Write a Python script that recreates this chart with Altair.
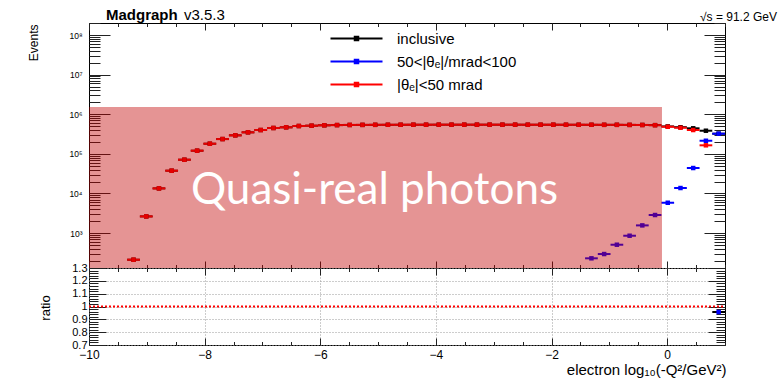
import altair as alt
import pandas as pd

# ---------------- data ----------------
S_INC = "inclusive"
S_WIDE = "50<|θₑ|/mrad<100"
S_NARROW = "|θₑ|<50 mrad"

bin_centers = [-9.23, -9.01, -8.79, -8.57, -8.35, -8.13, -7.91, -7.69, -7.47, -7.25,
               -7.03, -6.81, -6.59, -6.37, -6.15, -5.93, -5.71, -5.49, -5.27, -5.05,
               -4.83, -4.61, -4.39, -4.17, -3.95, -3.73, -3.51, -3.29, -3.07, -2.85,
               -2.63, -2.41, -2.19, -1.97, -1.75, -1.53, -1.31, -1.09, -0.87, -0.65,
               -0.43, -0.21, 0.01, 0.23, 0.45, 0.67, 0.89]
bin_half_width = 0.11

inclusive_events = [212, 2630, 13400, 37500, 71000, 120000, 180000, 236000, 293000, 349000,
                    399000, 449000, 467000, 504000, 513000, 525000, 532000, 536000, 538000, 540000,
                    541000, 542000, 543000, 543000, 544000, 544000, 544000, 544000, 544000, 544000,
                    544000, 543000, 543000, 543000, 542000, 542000, 541000, 540000, 540000, 538000,
                    536000, 531000, 492000, 470000, 441000, 383000, 322000]

narrow_events = [212, 2630, 13400, 37500, 71000, 120000, 180000, 236000, 293000, 349000,
                 399000, 449000, 467000, 504000, 513000, 525000, 532000, 536000, 538000, 540000,
                 541000, 542000, 543000, 543000, 544000, 544000, 544000, 544000, 544000, 544000,
                 544000, 543000, 543000, 543000, 542000, 542000, 541000, 540000, 539000, 537000,
                 534000, 528000, 483000, 456000, 399000, 164000]

wide_centers = [-1.31, -1.09, -0.87, -0.65, -0.43, -0.21, 0.01, 0.23, 0.45, 0.67, 0.89]
wide_events = [230, 295, 507, 855, 1560, 2850, 5820, 13700, 43800, 214000, 322000]

ratio_centers = [0.89]
ratio_values = [0.957]

reference_line_x = [-10, 1]
reference_line_y = [1.0]

overlay_x = [-10, -0.09]
overlay_y = [131, 1.52e6]

title_bold = "Madgraph"
title_version = "v3.5.3"
energy_label = "√s = 91.2 GeV"
overlay_label = "Quasi-real photons"
x_title = "electron log₁₀(-Q²/GeV²)"

x_major = [-10, -8, -6, -4, -2, 0]
y_ratio_major = [0.7, 0.8, 0.9, 1.0, 1.1, 1.2, 1.3]
y_top_major = [1e3, 1e4, 1e5, 1e6, 1e7, 1e8]

# ---------------- layout constants ----------------
W, H1, H2 = 636, 245, 77
FONT = "Liberation Sans"

rows = []
for name, xs, vs in [(S_INC, bin_centers, inclusive_events),
                     (S_WIDE, wide_centers, wide_events),
                     (S_NARROW, bin_centers, narrow_events)]:
    for x, v in zip(xs, vs):
        rows.append({"series": name, "x": x, "lo": x - bin_half_width,
                     "hi": x + bin_half_width, "v": v})
df = pd.DataFrame(rows)

ratio_df = pd.DataFrame({"x": ratio_centers,
                         "lo": [c - bin_half_width for c in ratio_centers],
                         "hi": [c + bin_half_width for c in ratio_centers],
                         "r": ratio_values})
ref_df = pd.DataFrame({"lo": [reference_line_x[0]], "hi": [reference_line_x[1]],
                       "r": reference_line_y})
overlay_df = pd.DataFrame({"x0": [overlay_x[0]], "x1": [overlay_x[1]],
                           "y0": [overlay_y[0]], "y1": [overlay_y[1]]})

xscale = alt.Scale(domain=[-10, 1], nice=False, zero=False)
yscale = alt.Scale(type="log", domain=[131, 2.01e8], nice=False)
rscale = alt.Scale(domain=[0.7, 1.3], nice=False, zero=False)
color_scale = alt.Scale(domain=[S_INC, S_WIDE, S_NARROW],
                        range=["#000000", "#0000ff", "#ff0000"])

x_tick_values = [-10 + 0.5 * i for i in range(23)]
y_tick_values = [m * 10 ** k for k in range(2, 9) for m in range(1, 10)
                 if 131 <= m * 10 ** k <= 2.01e8]
r_tick_values = [round(0.7 + 0.02 * i, 2) for i in range(31)]

X_TEST = "abs(datum.value % 2) < 0.001"
Y_TEST = "abs(log(datum.value)/LN10 - round(log(datum.value)/LN10)) < 0.01"
R_TEST = "round(datum.value*100) % 10 == 0"


def tick_axis(orient, offset, values, test, major, minor):
    return alt.Axis(orient=orient, offset=offset, values=values, labels=False,
                    domain=False, grid=False, title=None, tickColor="#222222",
                    tickWidth=1,
                    tickSize={"condition": {"test": test, "value": major}, "value": minor})


sup = {1e3: "10³", 1e4: "10⁴", 1e5: "10⁵", 1e6: "10⁶", 1e7: "10⁷", 1e8: "10⁸"}
label_expr = " : ".join(
    [f"datum.value > {k * 0.5:g} ? '{sup[k]}'" for k in sorted(sup, reverse=True)]) + " : ''"

# ---------------- top panel ----------------
legend_def = alt.Legend(orient="none", legendX=260, legendY=8, title=None,
                        direction="vertical",
                        symbolType="M-5.2,0H5.2M-0.35,-0.35H0.35V0.35H-0.35Z",
                        symbolSize=100, symbolStrokeWidth=2,
                        labelFont=FONT, labelFontSize=15, labelColor="black",
                        labelOffset=33, rowPadding=7, padding=0)

base = alt.Chart(df)
rules = base.mark_rule(strokeWidth=2).encode(
    x=alt.X("lo:Q", scale=xscale,
            axis=tick_axis("top", -H1, x_tick_values, X_TEST, 7, 3.5)),
    x2="hi:Q",
    y=alt.Y("v:Q", scale=yscale,
            axis=alt.Axis(orient="left", values=y_top_major, ticks=False, domain=False,
                          grid=False, labelExpr=label_expr, labelFont=FONT,
                          labelFontSize=8.5, labelPadding=7, labelColor="black",
                          title="Events", titleFont=FONT, titleFontSize=12,
                          titleFontWeight="normal", titleColor="black",
                          titleAngle=270, titleX=-56, titleY=1, titleAlign="right",
                          titleBaseline="middle")),
    color=alt.Color("series:N", scale=color_scale, legend=legend_def),
)
points = base.mark_square(size=20, opacity=1).encode(
    x=alt.X("x:Q", scale=xscale,
            axis=tick_axis("bottom", -H1, x_tick_values, X_TEST, 7, 3.5)),
    y=alt.Y("v:Q", scale=yscale,
            axis=tick_axis("right", -W, y_tick_values, Y_TEST, 21, 11)),
    color=alt.Color("series:N", scale=color_scale, legend=None),
)
overlay = alt.Chart(overlay_df).mark_rect(color="#c00000", opacity=0.42).encode(
    x=alt.X("x0:Q", scale=xscale, axis=None),
    x2="x1:Q",
    y=alt.Y("y0:Q", scale=yscale,
            axis=tick_axis("left", -W, y_tick_values, Y_TEST, 21, 11)),
    y2="y1:Q",
)


def text_layer(txt, x, y, **kw):
    return alt.Chart(pd.DataFrame({"t": [txt]})).mark_text(
        align="left", baseline="alphabetic", **kw).encode(
        x=alt.value(x), y=alt.value(y), text="t:N")


t_bold = text_layer(title_bold, 17, -3.5, font=FONT, fontSize=15,
                    fontWeight="bold", color="black")
t_ver = text_layer(title_version, 95, -3.5, font=FONT, fontSize=15, color="black")
t_energy = text_layer(energy_label, 611, -2.5, font=FONT, fontSize=12, color="black")
t_quasi = alt.Chart(pd.DataFrame({"t": [overlay_label]})).mark_text(
    align="center", baseline="alphabetic", font="Lato", fontSize=44,
    color="white").encode(x=alt.value(285.5), y=alt.value(181), text="t:N")

top = alt.layer(rules, points, overlay, t_bold, t_ver, t_energy, t_quasi).resolve_axis(
    x="independent", y="independent").properties(width=W, height=H1)

# ---------------- ratio panel ----------------
ref_line = alt.Chart(ref_df).mark_rule(color="#ff0000", strokeWidth=2,
                                       strokeDash=[2, 2]).encode(
    x=alt.X("lo:Q", scale=xscale,
            axis=alt.Axis(orient="bottom", values=x_major, ticks=False, domain=False,
                          grid=True, gridDash=[1, 2], gridColor="#9a9a9a",
                          labelFont=FONT, labelFontSize=12, labelPadding=4,
                          labelColor="black", labelFlush=False,
                          title=x_title, titleFont=FONT, titleFontSize=15,
                          titleFontWeight="normal", titleColor="black",
                          titleX=637, titleY=29, titleAlign="right",
                          titleBaseline="alphabetic")),
    x2="hi:Q",
    y=alt.Y("r:Q", scale=rscale,
            axis=alt.Axis(orient="left", values=y_ratio_major, ticks=False, domain=False,
                          grid=True, gridDash=[1, 2], gridColor="#9a9a9a",
                          format="~g", labelFont=FONT, labelFontSize=11,
                          labelPadding=2, labelColor="black", labelFlush=False,
                          title="ratio", titleFont=FONT, titleFontSize=13,
                          titleFontWeight="normal", titleColor="black",
                          titleAngle=270, titleX=-44, titleY=39.5, titleAlign="center",
                          titleBaseline="middle")),
)
ratio_bar = alt.Chart(ratio_df).mark_rule(color="black", strokeWidth=2).encode(
    x=alt.X("lo:Q", scale=xscale,
            axis=tick_axis("top", -H2, x_tick_values, X_TEST, 7, 3.5)),
    x2="hi:Q",
    y=alt.Y("r:Q", scale=rscale,
            axis=tick_axis("right", -W, r_tick_values, R_TEST, 17, 9)),
)
ratio_pt = alt.Chart(ratio_df).mark_square(size=20, color="#0000ff", opacity=1).encode(
    x=alt.X("x:Q", scale=xscale,
            axis=tick_axis("bottom", -H2, x_tick_values, X_TEST, 7, 3.5)),
    y=alt.Y("r:Q", scale=rscale,
            axis=tick_axis("left", -W, r_tick_values, R_TEST, 17, 9)),
)

bottom = alt.layer(ref_line, ratio_bar, ratio_pt).resolve_axis(
    x="independent", y="independent").properties(width=W, height=H2)

chart = alt.vconcat(top, bottom, spacing=0, bounds="flush").properties(
    padding={"left": 26, "top": 7, "right": 0, "bottom": 0},
    background="white",
).configure_view(stroke="black", strokeWidth=1).configure_axis(grid=False)

chart.save("out.html", embed_options={"renderer": "svg", "actions": False})
